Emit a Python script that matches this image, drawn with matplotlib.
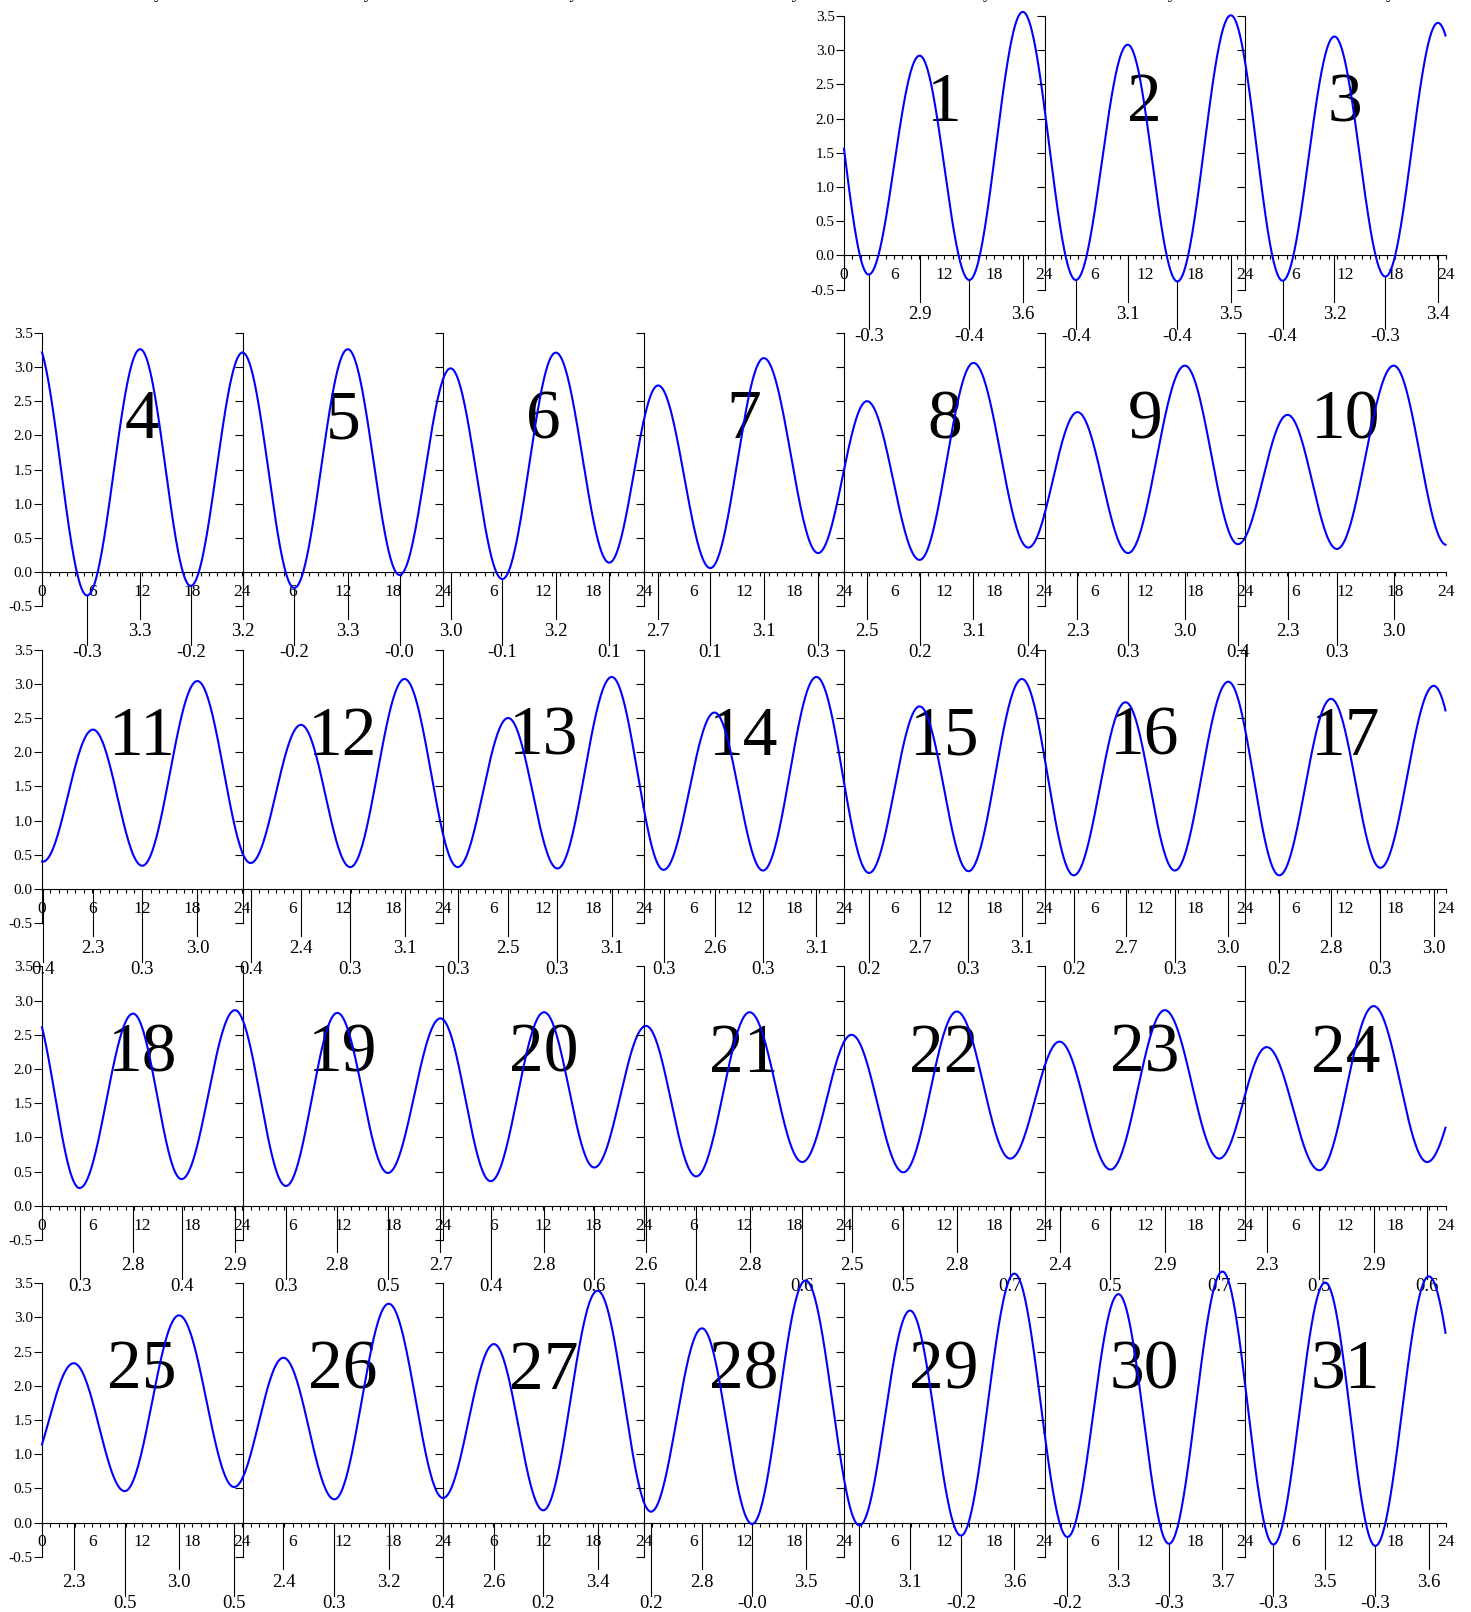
import numpy as np
import matplotlib
matplotlib.use('Agg')
import matplotlib.pyplot as plt
from matplotlib.ticker import FixedLocator, MultipleLocator

plt.rcParams['font.family'] = ['Liberation Serif', 'DejaVu Serif']
plt.rcParams['axes.unicode_minus'] = False

# ---------------- data ----------------
# high / low water times (hours from day 1, 00:00) and heights (m)
extreme_times = [
    -3.0,
    2.95, 9.05, 15.0, 21.4,
    27.75, 33.96, 39.9, 46.3,
    52.5, 58.7, 64.8, 71.1,
    77.4, 83.75, 89.8, 96.0,
    102.2, 108.6, 114.8,
    120.9, 127.1, 133.5, 139.9,
    145.75, 152.0, 158.4, 164.9,
    170.75, 177.05, 183.5, 190.05,
    195.95, 202.0, 208.8, 215.15,
    221.1, 227.0, 233.8,
    240.1, 246.1, 252.0, 258.6,
    264.96, 271.0, 276.9, 283.4,
    289.75, 295.8, 301.7, 308.2,
    314.4, 320.5, 326.3, 332.7,
    339.0, 345.05, 350.9, 357.3,
    363.5, 369.7, 375.6, 382.0,
    388.1, 394.3, 400.2, 406.6,
    412.5, 418.9, 424.7, 431.1,
    437.2, 443.35, 449.4, 455.7,
    461.7, 468.1, 474.1, 480.3,
    486.3, 492.7, 499.0, 504.9,
    511.1, 517.5, 523.9, 529.8,
    535.9, 542.4, 548.9, 554.6,
    560.9, 567.4, 573.8,
    579.8, 585.9, 592.4, 599.0,
    604.9, 611.0, 617.5, 624.0,
    630.1, 636.0, 642.5, 648.9,
    655.0, 661.0, 667.4, 673.85,
    679.9, 686.0, 692.4, 698.75,
    704.85, 710.9, 717.3, 723.4,
    729.6, 735.6, 742.0, 748.6,
]
extreme_heights = [
    3.45,
    -0.28, 2.92, -0.36, 3.56,
    -0.36, 3.08, -0.38, 3.51,
    -0.37, 3.20, -0.31, 3.40,
    -0.34, 3.26, -0.20, 3.21,
    -0.23, 3.26, -0.04,
    2.98, -0.10, 3.21, 0.14,
    2.73, 0.06, 3.13, 0.28,
    2.50, 0.18, 3.06, 0.36,
    2.34, 0.28, 3.02, 0.41,
    2.30, 0.34, 3.02,
    0.40, 2.33, 0.34, 3.04,
    0.38, 2.40, 0.32, 3.07,
    0.32, 2.50, 0.30, 3.10,
    0.28, 2.58, 0.27, 3.10,
    0.235, 2.67, 0.26, 3.07,
    0.20, 2.73, 0.27, 3.03,
    0.20, 2.78, 0.31, 2.97,
    0.26, 2.81, 0.39, 2.86,
    0.29, 2.82, 0.48, 2.74,
    0.36, 2.83, 0.56, 2.63,
    0.43, 2.83, 0.64, 2.50,
    0.49, 2.84, 0.69, 2.40,
    0.53, 2.86, 0.69, 2.32,
    0.52, 2.92, 0.64,
    2.33, 0.46, 3.03, 0.52,
    2.41, 0.34, 3.20, 0.36,
    2.61, 0.18, 3.39, 0.16,
    2.84, -0.02, 3.54, -0.04,
    3.10, -0.19, 3.64, -0.21,
    3.34, -0.31, 3.67, -0.32,
    3.51, -0.34, 3.60, -0.33,
]
n_days = 31
first_day_column = 4          # day 1 falls on Thursday (Sunday-first week)
weekday_names = ['Sunday', 'Monday', 'Tuesday', 'Wednesday',
                 'Thursday', 'Friday', 'Saturday']
hour_ticks = [0, 6, 12, 18, 24]
height_ticks = [-0.5, 0.0, 0.5, 1.0, 1.5, 2.0, 2.5, 3.0, 3.5]

# ---------------- helpers ----------------
T_ext = np.array(extreme_times)
H_ext = np.array(extreme_heights)


def tide_level(t):
    i = np.searchsorted(T_ext, t, side='right') - 1
    i = np.clip(i, 0, len(T_ext) - 2)
    f = (t - T_ext[i]) / (T_ext[i + 1] - T_ext[i])
    return H_ext[i + 1] + (H_ext[i] - H_ext[i + 1]) * (1 + np.cos(np.pi * f)) / 2


def is_high(k):
    nb = []
    if k > 0:
        nb.append(H_ext[k - 1])
    if k < len(H_ext) - 1:
        nb.append(H_ext[k + 1])
    return H_ext[k] > max(nb)


# ---------------- layout ----------------
FW, FH = 1471, 1612
fig = plt.figure(figsize=(FW / 100, FH / 100), dpi=100)
fig.patch.set_facecolor('white')

col_x0, col_w = 42.0, 200.5
row_y0, row_step, unit = 16.0, 316.8, 68.4
ax_h = 4 * unit

# weekday headers (only their descenders fall inside the picture)
head_x = [164, 373, 579, 802, 993, 1177, 1396]
for name, hx in zip(weekday_names, head_x):
    fig.text(hx / FW, 1 + 2.5 / FH, name, ha='right', va='baseline',
             fontsize=13, color='black')

for d in range(1, n_days + 1):
    pos = first_day_column + d - 1
    r, c = divmod(pos, 7)
    left = (col_x0 + col_w * c) / FW
    top = row_y0 + row_step * r
    bottom = 1 - (top + ax_h) / FH
    ax = fig.add_axes([left, bottom, col_w / FW, ax_h / FH])
    ax.patch.set_visible(False)
    ax.set_xlim(0, 24)
    ax.set_ylim(-0.5, 3.5)
    ax.spines['top'].set_visible(False)
    ax.spines['right'].set_visible(False)
    ax.spines['bottom'].set_position(('data', 0))
    for s in ('left', 'bottom'):
        ax.spines[s].set_linewidth(0.8)

    first_in_row = (c == 0) or (d == 1)
    ax.xaxis.set_major_locator(FixedLocator(hour_ticks))
    ax.xaxis.set_minor_locator(MultipleLocator(1))
    ax.tick_params(axis='x', which='both', direction='out', length=3.0,
                   width=0.8, pad=5.5, labelsize=12.5)
    ax.yaxis.set_major_locator(FixedLocator(height_ticks))
    ax.tick_params(axis='y', direction='out', length=5.8, width=0.8,
                   pad=0.8, labelsize=11, labelleft=first_in_row)
    ax.set_yticklabels([f'{v:.1f}' for v in height_ticks])
    ax.set_xticklabels([str(h) if (h != 0 or first_in_row) else ''
                        for h in hour_ticks])

    t0 = (d - 1) * 24
    hrs = np.linspace(0, 24, 481)
    ax.plot(hrs, tide_level(t0 + hrs), color='#0000ff', lw=1.5,
            clip_on=False, zorder=3)

    for k, (te, he) in enumerate(zip(T_ext, H_ext)):
        if t0 <= te < t0 + 24:
            h = te - t0
            if is_high(k):
                y_end, y_lab = -0.68, -0.935
            else:
                y_end, y_lab = -1.07, -1.245
            ax.plot([h, h], [min(0.0, he), y_end], color='black', lw=0.8,
                    clip_on=False, zorder=2)
            ax.text(h, y_lab, f'{he:.1f}', ha='center', va='baseline',
                    fontsize=13.5, clip_on=False)

    ax.text(12, 1.96, str(d), ha='center', va='baseline', fontsize=50,
            zorder=1)

fig.savefig('out.png', dpi=100)
